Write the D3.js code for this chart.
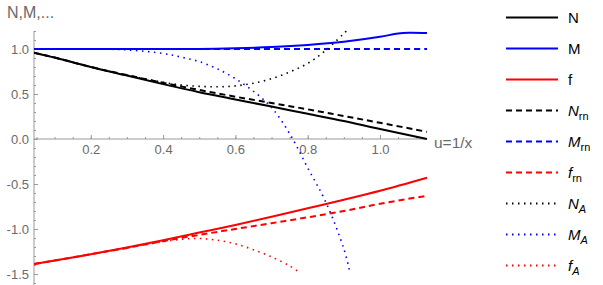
<!DOCTYPE html>
<html><head><meta charset="utf-8">
<script src="https://cdn.jsdelivr.net/npm/d3@7"></script>
<style>body{margin:0;background:#fff}svg{display:block}</style>
</head><body>
<script>
// ---- data ----
const uMain = [0.043,0.1,0.2,0.3,0.4,0.5,0.6,0.7,0.8,0.9,1.0,1.13];
const N   = [0.96,0.905,0.80,0.705,0.61,0.52,0.44,0.36,0.28,0.20,0.11,0.0];
const Nrn = [0.96,0.905,0.80,0.71,0.625,0.545,0.47,0.40,0.33,0.255,0.18,0.08];
const Mrn = [1.0,1.0,1.0,1.0,1.0,1.0,1.0,1.0,1.0,1.0,1.0,1.0];
const f   = [-1.39,-1.35,-1.28,-1.205,-1.125,-1.04,-0.955,-0.865,-0.77,-0.675,-0.575,-0.43];
const frn = [-1.39,-1.35,-1.28,-1.21,-1.135,-1.065,-1.00,-0.935,-0.87,-0.80,-0.72,-0.63];
const uM  = [0.043,0.2,0.4,0.5,0.6,0.7,0.8,0.9,1.0,1.05,1.08,1.13];
const M   = [1.0,1.0,1.0,1.0,1.008,1.022,1.045,1.08,1.135,1.172,1.18,1.177];
const uNA = [0.043,0.1,0.2,0.3,0.4,0.45,0.5,0.55,0.6,0.65,0.7,0.75,0.8,0.85,0.907];
const NA  = [0.96,0.905,0.80,0.71,0.63,0.60,0.585,0.58,0.59,0.62,0.67,0.745,0.84,0.985,1.2];
const uMA = [0.043,0.1,0.2,0.3,0.4,0.45,0.5,0.55,0.6,0.65,0.7,0.75,0.8,0.85,0.9,0.915];
const MA  = [1.0,1.0,1.0,0.99,0.95,0.91,0.86,0.78,0.67,0.53,0.35,0.06,-0.32,-0.70,-1.22,-1.45];
const uFA = [0.043,0.1,0.2,0.3,0.4,0.45,0.5,0.55,0.6,0.65,0.7,0.75,0.78];
const fA  = [-1.39,-1.35,-1.28,-1.21,-1.14,-1.115,-1.105,-1.125,-1.165,-1.23,-1.31,-1.41,-1.49];
const xTicks = [0.2,0.4,0.6,0.8,1.0];
const yTicks = [-1.5,-1.0,-0.5,0.0,0.5,1.0];
const legendNames = [["N",""],["M",""],["f",""],["N","rn"],["M","rn"],["f","rn"],["N","A"],["M","A"],["f","A"]];

const series = [
  {u:uMain, v:N,   c:"#000", s:"solid"},
  {u:uM,    v:M,   c:"#0000ff", s:"solid"},
  {u:uMain, v:f,   c:"#ff0000", s:"solid"},
  {u:uMain, v:Nrn, c:"#000", s:"dash"},
  {u:uMain, v:Mrn, c:"#0000ff", s:"dash"},
  {u:uMain, v:frn, c:"#ff0000", s:"dash"},
  {u:uNA, v:NA, c:"#000", s:"dot"},
  {u:uMA, v:MA, c:"#0000ff", s:"dot"},
  {u:uFA, v:fA, c:"#ff0000", s:"dot"}
];

const W=603,H=285;
const svg=d3.select("body").append("svg").attr("width",W).attr("height",H);
const x=d3.scaleLinear().domain([0.043,1.13]).range([34,427]);
const y=d3.scaleLinear().domain([-1.5,1.0]).range([274,49]);
const font="'Liberation Sans', Arial, sans-serif";
const axCol="#999", lblCol="#6a6a6a";
const fmt=d=>d3.format(".1f")(d).replace("−","-");

// y axis
const yAx=svg.append("g").attr("transform",`translate(${x.range()[0]},0)`);
yAx.call(d3.axisLeft(y).tickValues(d3.range(-16,13).map(d=>d/10)).tickSize(-2).tickFormat(""));
yAx.call(g=>g.select(".domain").remove());
const yMaj=svg.append("g").attr("transform",`translate(${x.range()[0]},0)`)
  .call(d3.axisLeft(y).tickValues(yTicks).tickSize(-4).tickPadding(5).tickFormat(fmt));
yMaj.select(".domain").remove();
svg.append("line").attr("x1",x.range()[0]).attr("x2",x.range()[0]).attr("y1",y(1.2)).attr("y2",H).attr("stroke",axCol);

// x axis
const xMin=svg.append("g").attr("transform",`translate(0,${y(0)})`)
  .call(d3.axisBottom(x).tickValues(d3.range(1,23).map(d=>d*0.05)).tickSize(-2).tickFormat(""));
xMin.select(".domain").remove();
const xMaj=svg.append("g").attr("transform",`translate(0,${y(0)})`)
  .call(d3.axisBottom(x).tickValues(xTicks).tickSize(-4).tickPadding(6).tickFormat(fmt));
xMaj.select(".domain").remove();
svg.append("line").attr("x1",x.range()[0]).attr("x2",x.range()[1]).attr("y1",y(0)).attr("y2",y(0)).attr("stroke",axCol);

svg.selectAll(".tick line").attr("stroke",axCol);
svg.selectAll(".tick text").attr("fill",lblCol).style("font-family",font).style("font-size","13px");

svg.append("text").attr("x",434).attr("y",y(0)+9).text("u=1/x").attr("fill",lblCol)
  .style("font-family",font).style("font-size","15.5px");
svg.append("text").attr("x",7).attr("y",18).text("N,M,...").attr("fill",lblCol)
  .style("font-family",font).style("font-size","16px");

const dashOf=s=>s==="dash"?"6,4":s==="dot"?"1.5,4.5":null;
svg.append("clipPath").attr("id","cp").append("rect").attr("x",x.range()[0]).attr("y",0).attr("width",W).attr("height",H);
const line=d3.line().curve(d3.curveCatmullRom.alpha(0.5));
series.forEach(sr=>{
  svg.append("path").attr("clip-path","url(#cp)")
    .attr("d",line(sr.u.map((u,i)=>[x(u),y(sr.v[i])])))
    .attr("fill","none").attr("stroke",sr.c)
    .attr("stroke-width",sr.s==="dot"?1.6:2)
    .attr("stroke-dasharray",dashOf(sr.s));
});

// legend
const lg=svg.append("g");
series.forEach((sr,i)=>{
  const yy=17.5+i*31;
  lg.append("line").attr("x1",506).attr("x2",558).attr("y1",yy).attr("y2",yy)
    .attr("stroke",sr.c).attr("stroke-width",2).attr("stroke-dasharray",dashOf(sr.s));
  const [nm,sub]=legendNames[i];
  const t=lg.append("text").attr("x",568).attr("y",yy+5.5).style("font-family",font).style("font-size","15px").attr("fill","#000");
  if(!sub){ t.text(nm); }
  else {
    t.append("tspan").text(nm).style("font-style","italic");
    t.append("tspan").text(sub).attr("dy",4).style("font-size","11px").style("font-style",sub==="A"?"italic":"normal");
  }
});
</script>
</body></html>
